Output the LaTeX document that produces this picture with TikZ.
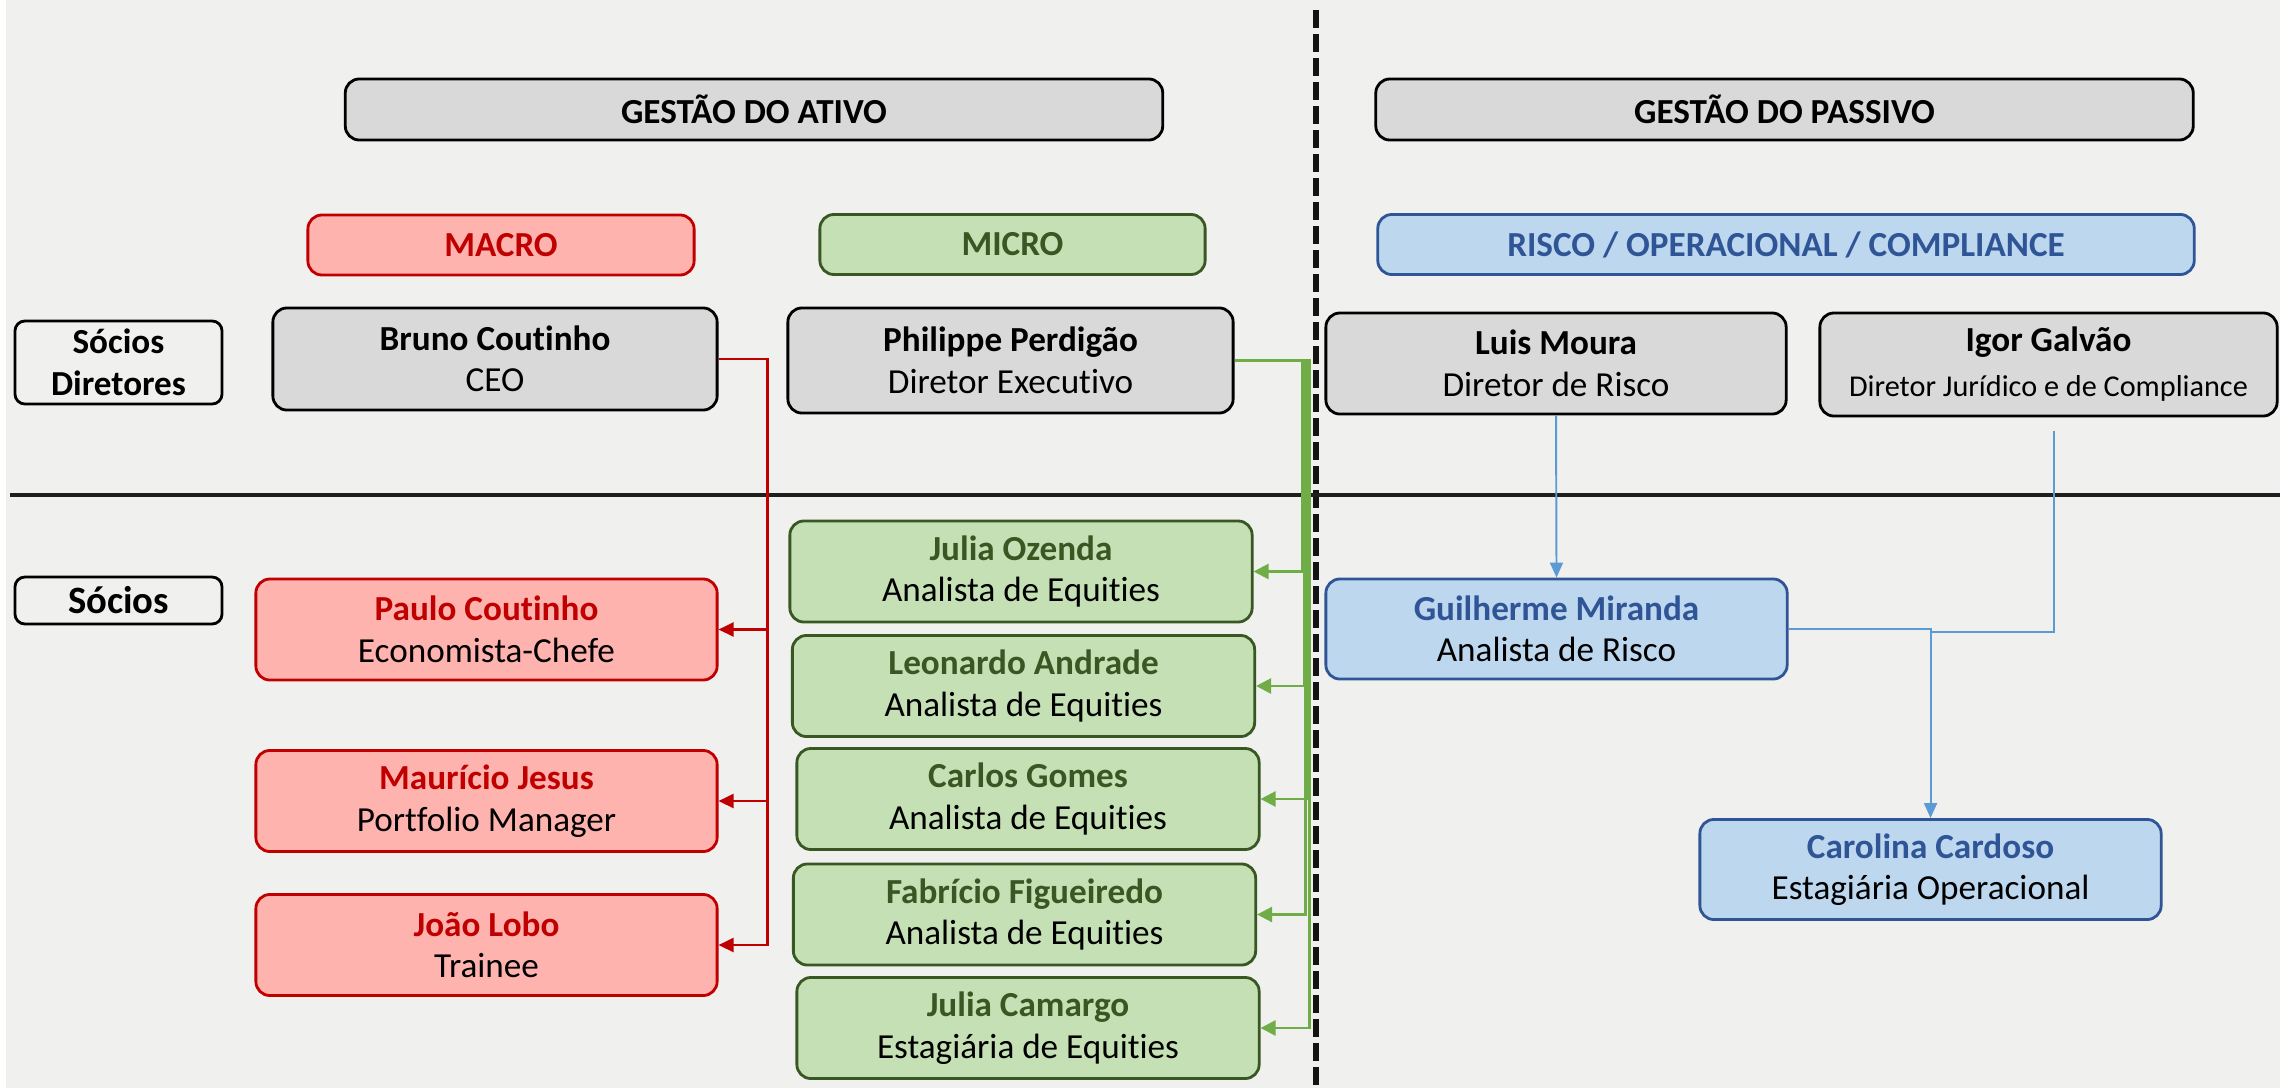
\documentclass[tikz,border=0pt]{standalone}
\usepackage{fontspec}
\setmainfont{Carlito}[Ligatures=NoCommon]
\usetikzlibrary{arrows.meta}
\definecolor{bgcol}{HTML}{F0F0EE}
\definecolor{boxgray}{HTML}{D9D9D9}
\definecolor{macrored}{HTML}{C00000}
\definecolor{macrofill}{HTML}{FFB3AF}
\definecolor{microgreen}{HTML}{385723}
\definecolor{microfill}{HTML}{C5E0B4}
\definecolor{linegreen}{HTML}{70AD47}
\definecolor{riscoblue}{HTML}{2F5597}
\definecolor{riscofill}{HTML}{BDD7EE}
\definecolor{lineblue}{HTML}{5B9BD5}
\newcommand{\rname}[1]{\textcolor{macrored}{\bfseries #1}}
\newcommand{\gname}[1]{\textcolor{microgreen}{\bfseries #1}}
\newcommand{\bname}[1]{\textcolor{riscoblue}{\bfseries #1}}
\begin{document}
\begin{tikzpicture}[x=0.01cm, y=-0.01cm,
	font=\fontsize{10}{11.8}\selectfont,
	box/.style={draw, rounded corners=0.14cm, line width=0.8pt, align=center, inner sep=2pt},
	graybox/.style={box, fill=boxgray, draw=black},
	redbox/.style={box, fill=macrofill, draw=macrored, minimum width=4.61cm, minimum height=1.01cm},
	greenbox/.style={box, fill=microfill, draw=microgreen, minimum width=4.62cm, minimum height=1.01cm},
	bluebox/.style={box, fill=riscofill, draw=riscoblue, minimum width=4.61cm, minimum height=1.0cm},
	headbox/.style={graybox, minimum width=8.17cm, minimum height=0.61cm, font=\fontsize{10}{12}\selectfont\bfseries},
	catbox/.style={box, minimum height=0.6cm, font=\fontsize{10}{12}\selectfont\bfseries},
	levelbox/.style={box, draw=black, minimum width=2.07cm, font=\fontsize{10}{11.8}\selectfont\bfseries, rounded corners=0.1cm},
	redline/.style={draw=macrored, line width=0.7pt, -{Triangle[length=0.15cm, width=0.14cm]}},
	greenline/.style={draw=linegreen, line width=0.7pt, -{Triangle[length=0.15cm, width=0.15cm]}},
	blueline/.style={draw=lineblue, line width=0.55pt, -{Triangle[length=0.15cm, width=0.13cm]}}]
	\useasboundingbox[fill=white] (0,0) rectangle (2280,1088);
	\fill[bgcol] (6,0) rectangle (2280,1088);
	% divisions
	\draw[line width=1.7pt, black!92, dash pattern=on 0.18cm off 0.06cm] (1316,10) -- (1316,1088);
	\draw[line width=1.1pt, black!88] (10,495) -- (2280,495);
	% headers
	\node[headbox] (gat) at (754,109.5) {GESTÃO DO ATIVO};
	\node[headbox] (gpa) at (1784.5,109.5) {GESTÃO DO PASSIVO};
	\node[catbox, fill=macrofill, draw=macrored, text=macrored, minimum width=3.86cm] (macro) at (501,245) {MACRO};
	\node[catbox, fill=microfill, draw=microgreen, text=microgreen, minimum width=3.85cm] (micro) at (1012.5,244.5) {MICRO};
	\node[catbox, fill=riscofill, draw=riscoblue, text=riscoblue, minimum width=8.16cm] (risco) at (1786,244.5) {RISCO / OPERACIONAL / COMPLIANCE};
	% levels
	\node[levelbox, minimum height=0.83cm] (sd) at (118.5,362.5) {Sócios\\Diretores};
	\node[levelbox, minimum height=0.47cm, font=\fontsize{11}{12}\selectfont\bfseries] (so) at (118.5,600.5) {Sócios};
	% socios diretores
	\node[graybox, minimum width=4.44cm, minimum height=1.02cm] (bc) at (495,359) {\textbf{Bruno Coutinho}\\CEO};
	\node[graybox, minimum width=4.45cm, minimum height=1.05cm] (pp) at (1010.5,360.5) {\textbf{Philippe Perdigão}\\Diretor Executivo};
	\node[graybox, minimum width=4.60cm, minimum height=1.01cm] (lm) at (1556,363.5) {\textbf{Luis Moura}\\Diretor de Risco};
	\node[graybox, minimum width=4.57cm, minimum height=1.03cm] (ig) at (2048.5,364.5) {\textbf{Igor Galvão}\\[1pt]{\fontsize{8.6}{10}\selectfont Diretor Jurídico e de Compliance}};
	% macro
	\node[redbox] (pc) at (486.5,629.5) {\rname{Paulo Coutinho}\\Economista-Chefe};
	\node[redbox] (mj) at (486.5,801) {\rname{Maurício Jesus}\\Portfolio Manager};
	\node[redbox] (jl) at (486.5,945) {\rname{João Lobo}\\Trainee};
	% micro
	\node[greenbox] (jo) at (1021,571.5) {\gname{Julia Ozenda}\\Analista de Equities};
	\node[greenbox] (la) at (1023.5,686) {\gname{Leonardo Andrade}\\Analista de Equities};
	\node[greenbox] (cg) at (1028,799) {\gname{Carlos Gomes}\\Analista de Equities};
	\node[greenbox] (ff) at (1024.5,914.5) {\gname{Fabrício Figueiredo}\\Analista de Equities};
	\node[greenbox] (jc) at (1028,1028) {\gname{Julia Camargo}\\Estagiária de Equities};
	% risco
	\node[bluebox] (gm) at (1556.5,629) {\bname{Guilherme Miranda}\\Analista de Risco};
	\node[bluebox] (cc) at (1930.5,869.5) {\bname{Carolina Cardoso}\\Estagiária Operacional};
	% connectors
	\foreach \t in {pc,mj,jl}
		\draw[redline] (bc.east) -- ++(49,0) |- (\t.east);
	\draw[greenline] (pp.east) -- ++(68,0) |- (jo.east);
	\draw[greenline] (pp.east) -- ++(70,0) |- (la.east);
	\draw[greenline] (pp.east) -- ++(74,0) |- (cg.east);
	\draw[greenline] (pp.east) -- ++(71,0) |- (ff.east);
	\draw[greenline] (pp.east) -- ++(75,0) |- (jc.east);
	\draw[blueline] (lm.south) -- (gm.north);
	\draw[blueline] (gm.east) -| (cc.north);
	\coordinate (igend) at ([shift={(5,14)}]ig.south);
	\draw[draw=lineblue, line width=0.55pt] (igend) |- ([yshift=-0.03cm]cc.north |- gm.east);
\end{tikzpicture}
\end{document}
